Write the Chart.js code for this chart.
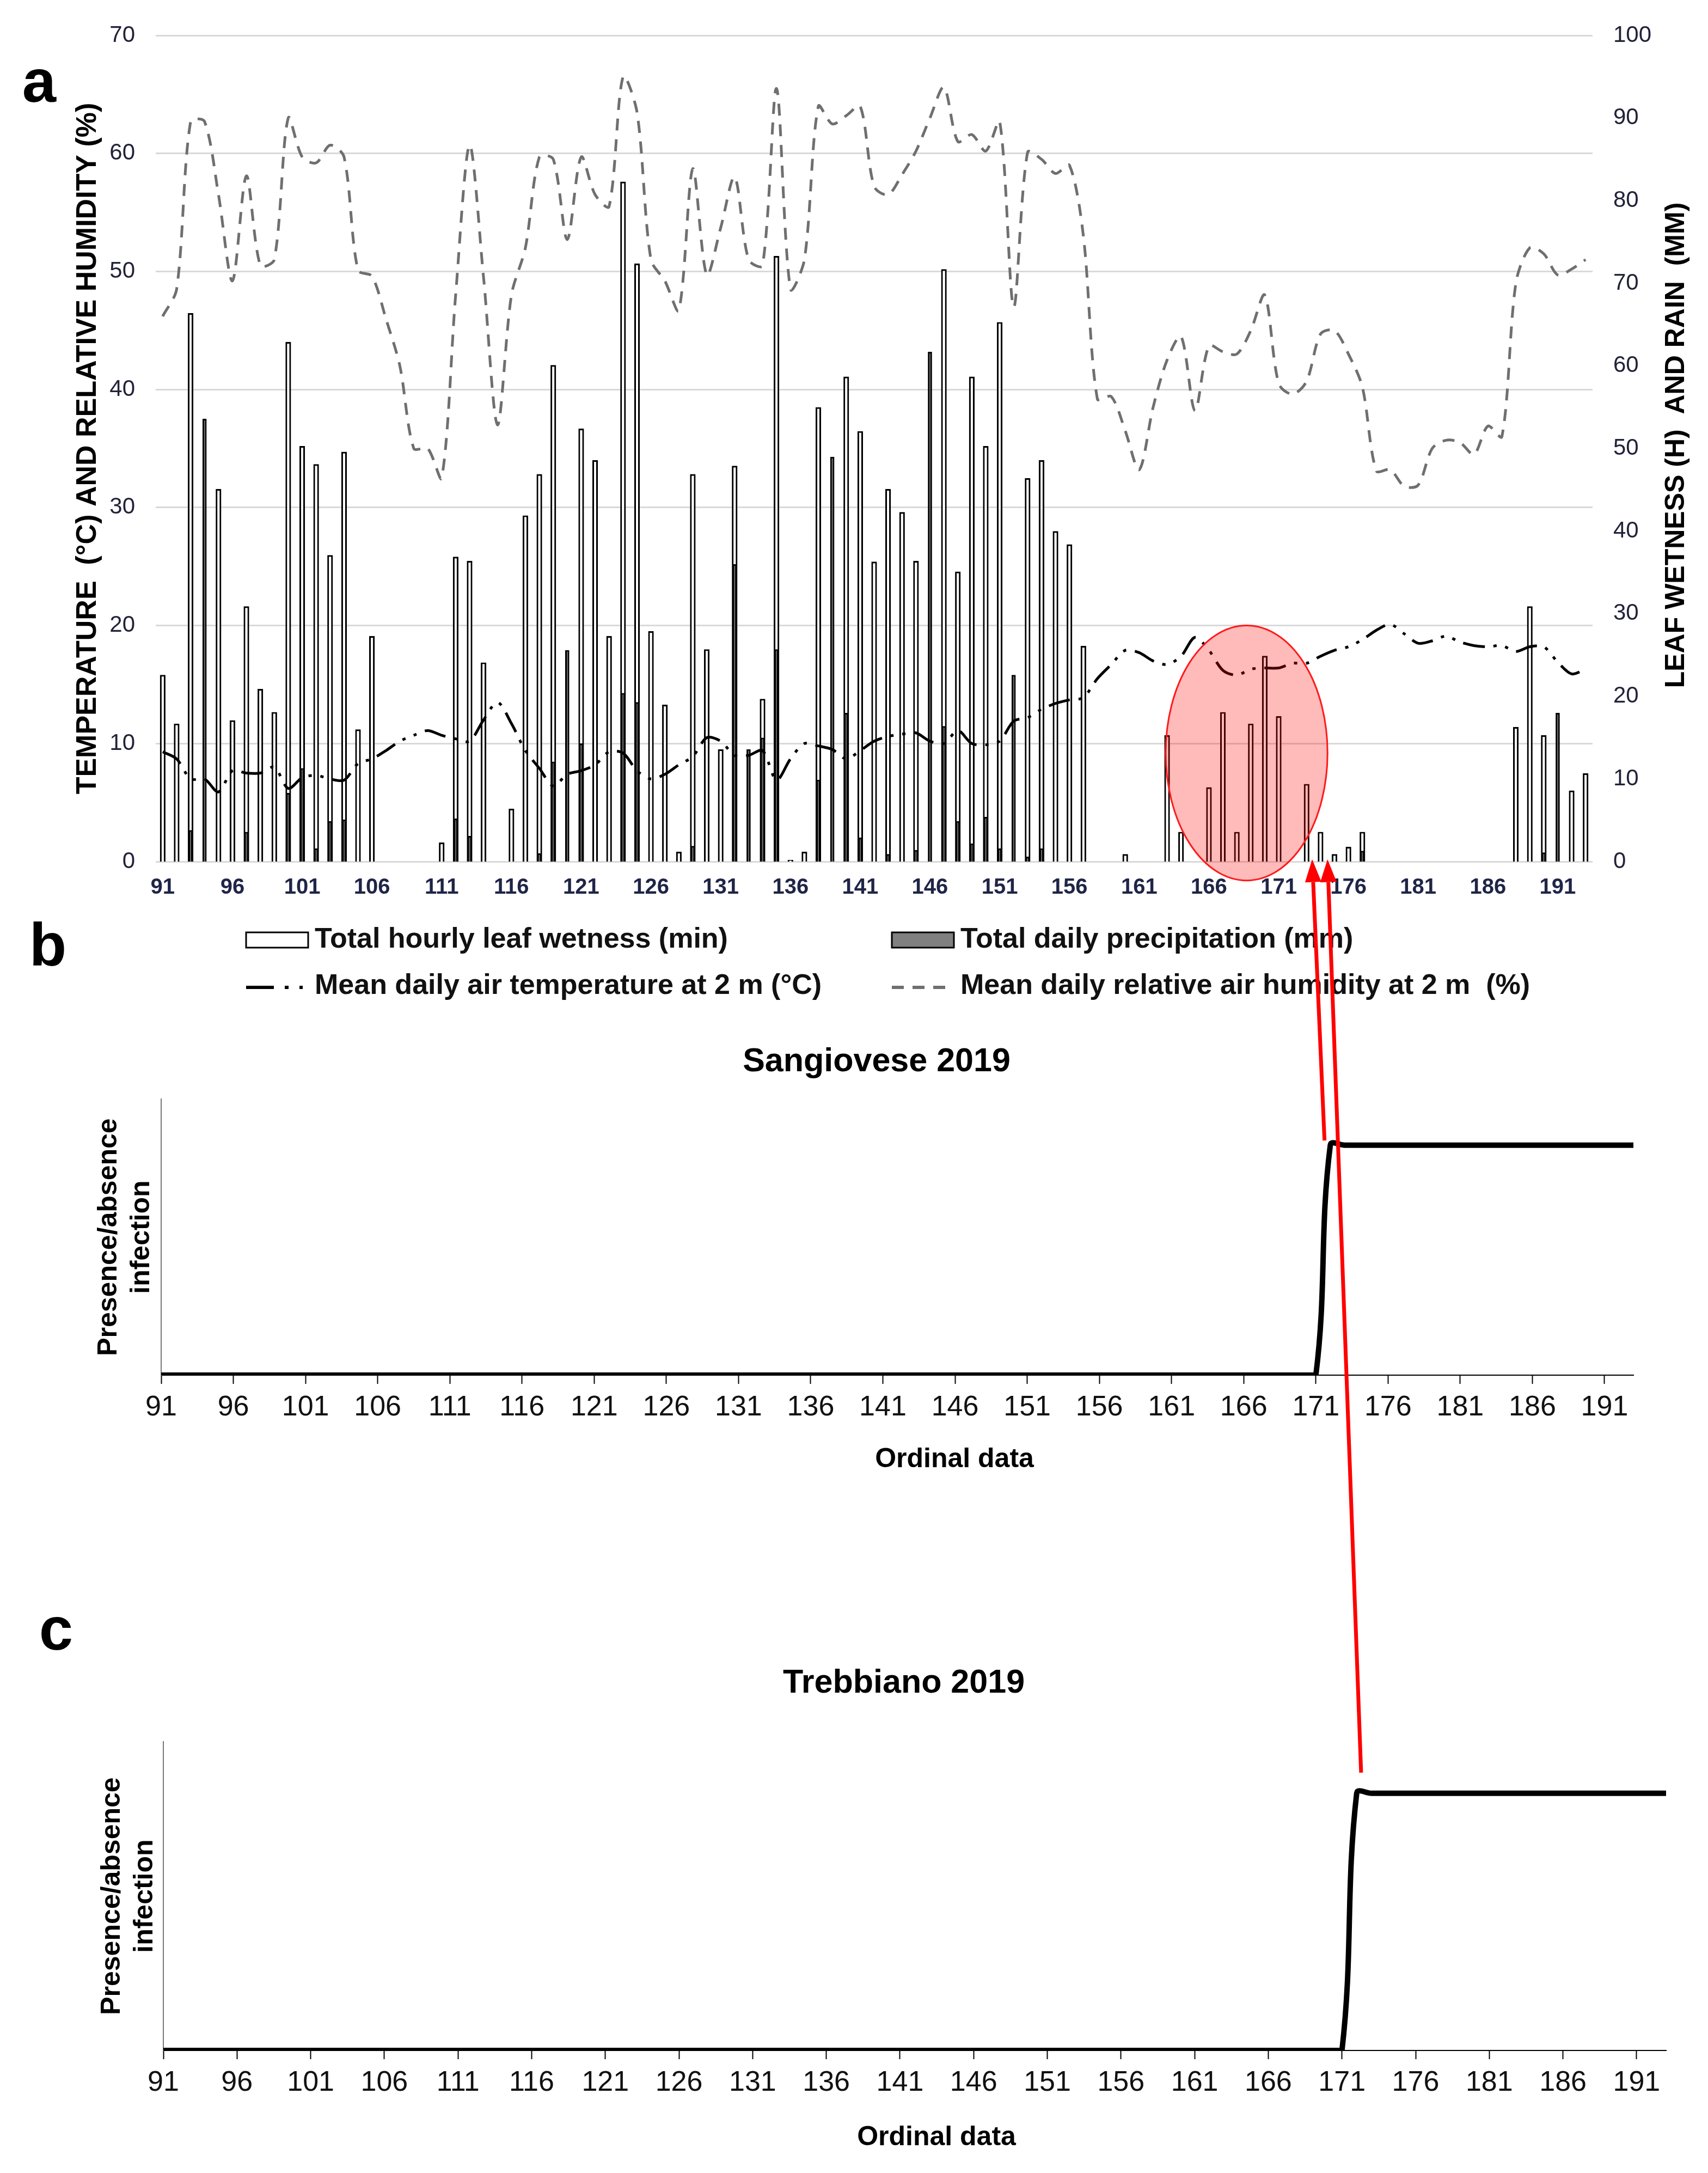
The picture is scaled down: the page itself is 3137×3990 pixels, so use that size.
<!DOCTYPE html>
<html>
<head>
<meta charset="utf-8">
<script src="https://cdn.jsdelivr.net/npm/chart.js@4.4.0/dist/chart.umd.min.js"></script>
<style>
  html, body { margin: 0; padding: 0; background: #fff; }
  #page { position: relative; width: 3137px; height: 3990px; }
  canvas { position: absolute; left: 0; }
  #chartA { top: 0; width: 3137px; height: 1860px; }
  #chartB { top: 1860px; width: 3137px; height: 900px; }
  #chartC { top: 2760px; width: 3137px; height: 1230px; }
  #overlay { top: 0; width: 3137px; height: 3990px; pointer-events: none; }
</style>
</head>
<body>
<div id="page">
  <canvas id="chartA" width="3137" height="1860"></canvas>
  <canvas id="chartB" width="3137" height="900"></canvas>
  <canvas id="chartC" width="3137" height="1230"></canvas>
  <canvas id="overlay" width="3137" height="3990"></canvas>
</div>
<script>
// ordinal days shown on every panel
const days = [
  91, 92, 93, 94, 95, 96, 97, 98, 99, 100,
  101, 102, 103, 104, 105, 106, 107, 108, 109, 110,
  111, 112, 113, 114, 115, 116, 117, 118, 119, 120,
  121, 122, 123, 124, 125, 126, 127, 128, 129, 130,
  131, 132, 133, 134, 135, 136, 137, 138, 139, 140,
  141, 142, 143, 144, 145, 146, 147, 148, 149, 150,
  151, 152, 153, 154, 155, 156, 157, 158, 159, 160,
  161, 162, 163, 164, 165, 166, 167, 168, 169, 170,
  171, 172, 173, 174, 175, 176, 177, 178, 179, 180,
  181, 182, 183, 184, 185, 186, 187, 188, 189, 190,
  191, 192, 193
];
const tickDays = [91, 96, 101, 106, 111, 116, 121, 126, 131, 136, 141, 146, 151, 156, 161, 166, 171, 176, 181, 186, 191];

// panel a, right axis (0-100)
const leafWetness = [
  22.6, 16.7, 66.4, null, 45.1, 17.1, 30.9, 20.9, 18.1, 62.9,
  50.3, 48.1, 37.1, 49.6, 16.0, 27.3, 0, 0, 0, 0,
  2.3, 36.9, 36.4, 24.1, 0, 6.4, 41.9, 46.9, 60.1, null,
  52.4, 48.6, 27.3, 82.3, 72.4, 27.9, 19.0, 1.2, 46.9, 25.7,
  13.6, 47.9, null, 19.7, 73.3, 0.2, 1.2, 55.0, null, 58.7,
  52.1, 36.3, 45.1, 42.3, 36.4, null, 71.7, 35.1, 58.7, 50.3,
  65.3, null, 46.4, 48.6, 40.0, 38.4, 26.1, 0, 0, 0.9,
  0, 0, 15.3, 3.6, 0, 9.0, 18.1, 3.6, 16.7, 24.9,
  17.6, 0, 9.4, 3.6, 0.9, 1.8, 3.6, 0, 0, 0,
  0, 0, 0, 0, 0, 0, 0, 16.3, 30.9, 15.3,
  null, 8.6, 10.7
];
const precipitation = [
  0, 0, 3.8, 53.6, 0, 0, 3.6, 0, 0, 8.3,
  11.3, 1.6, 4.9, 5.1, 0, 0, 0, 0, 0, 0,
  0, 5.2, 3.1, 0, 0, 0, 0, 1.0, 12.1, 25.6,
  14.3, 0, 0, 20.4, 19.3, 0, 0, 0, 1.9, 0,
  0, 36.0, 13.6, 15.0, 25.7, 0, 0, 9.9, 49.0, 18.0,
  2.9, 0, 0.9, 0, 1.4, 61.7, 16.4, 4.9, 2.2, 5.4,
  1.6, 22.6, 0.6, 1.6, 0, 0, 0, 0, 0, 0,
  0, 0, 0, 0, 0, 0, 0, 0, 0, 0,
  0, 0, 0, 0, 0, 0, 1.3, 0, 0, 0,
  0, 0, 0, 0, 0, 0, 0, 0, 0, 1.1,
  18.0, 0, 0
];
// panel a, left axis (0-70)
const temperature = [
  9.3, 8.7, 7.0, 7.0, 5.9, 7.7, 7.5, 7.5, 8.0, 6.2,
  7.1, 7.3, 7.0, 6.9, 8.3, 8.7, 9.4, 10.2, 10.7, 11.1,
  10.7, 10.4, 10.2, 12.0, 13.5, 11.7, 9.4, 7.9, 6.4, 7.4,
  7.7, 8.2, 9.3, 9.2, 7.7, 7.0, 7.4, 8.2, 8.9, 10.5,
  10.2, 9.0, 9.0, 9.4, 6.9, 8.7, 10.0, 9.8, 9.5, 8.7,
  9.4, 10.2, 10.6, 10.8, 10.9, 10.2, 10.0, 11.1, 10.0, 9.9,
  10.2, 11.9, 12.2, 12.9, 13.4, 13.7, 13.9, 15.5, 16.7, 17.9,
  17.7, 17.0, 16.7, 17.4, 19.0, 17.9, 16.2, 15.8, 16.3, 16.4,
  16.4, 16.8, 16.8, 17.4, 17.9, 18.2, 18.8, 19.6, 20.1, 19.3,
  18.5, 18.7, 19.1, 18.6, 18.3, 18.2, 18.3, 17.8, 18.2, 18.2,
  16.9, 15.9, 16.3
];
const humidity = [
  46.2, 48.5, 62.7, 62.7, 56.5, 49.2, 58.1, 50.5, 51.0, 63.0,
  59.7, 59.2, 60.7, 59.7, 50.1, 49.6, 46.0, 42.0, 35.0, 35.0,
  32.5, 48.0, 60.7, 49.5, 37.0, 48.0, 52.0, 59.7, 59.5, 52.7,
  59.7, 56.5, 55.5, 66.5, 63.5, 51.0, 49.2, 46.7, 58.7, 49.7,
  53.7, 58.0, 51.0, 50.5, 65.5, 48.5, 51.0, 64.0, 62.5, 63.2,
  64.0, 57.2, 56.5, 58.2, 60.2, 63.0, 65.6, 61.0, 61.6, 60.2,
  62.7, 47.0, 60.1, 59.5, 58.3, 59.0, 53.0, 39.2, 39.4, 36.5,
  33.2, 38.5, 42.5, 44.5, 38.2, 43.7, 43.2, 43.0, 45.0, 48.0,
  40.5, 39.6, 40.7, 44.7, 45.0, 43.0, 40.2, 33.1, 33.2, 31.8,
  31.9, 35.0, 35.7, 35.5, 34.5, 36.9, 36.0, 49.0, 52.0, 51.5,
  49.7, 50.2, 51.0
];
// panels b and c: 0 = absence, 1 = presence
const sangioveseInfection = [
  0, 0, 0, 0, 0, 0, 0, 0, 0, 0,
  0, 0, 0, 0, 0, 0, 0, 0, 0, 0,
  0, 0, 0, 0, 0, 0, 0, 0, 0, 0,
  0, 0, 0, 0, 0, 0, 0, 0, 0, 0,
  0, 0, 0, 0, 0, 0, 0, 0, 0, 0,
  0, 0, 0, 0, 0, 0, 0, 0, 0, 0,
  0, 0, 0, 0, 0, 0, 0, 0, 0, 0,
  0, 0, 0, 0, 0, 0, 0, 0, 0, 0,
  0, 1, 1, 1, 1, 1, 1, 1, 1, 1,
  1, 1, 1, 1, 1, 1, 1, 1, 1, 1,
  1, 1, 1
];
const trebbianoInfection = [
  0, 0, 0, 0, 0, 0, 0, 0, 0, 0,
  0, 0, 0, 0, 0, 0, 0, 0, 0, 0,
  0, 0, 0, 0, 0, 0, 0, 0, 0, 0,
  0, 0, 0, 0, 0, 0, 0, 0, 0, 0,
  0, 0, 0, 0, 0, 0, 0, 0, 0, 0,
  0, 0, 0, 0, 0, 0, 0, 0, 0, 0,
  0, 0, 0, 0, 0, 0, 0, 0, 0, 0,
  0, 0, 0, 0, 0, 0, 0, 0, 0, 0,
  0, 1, 1, 1, 1, 1, 1, 1, 1, 1,
  1, 1, 1, 1, 1, 1, 1, 1, 1, 1,
  1, 1, 1
];

// highlighted area and arrows, given in data units
const highlight = { day: 168.7, value: 9.2, rxDays: 5.8, ryValue: 10.8 };
const arrows = [
  { from: "B", day: 171.6, value: 1.02, toDay: 173.4, toValue: 0.2 },
  { from: "C", day: 172.3, value: 1.08, toDay: 174.5, toValue: 0.2 }
];

const FONT = "'Liberation Sans', Arial, sans-serif";
Chart.defaults.font.family = FONT;
Chart.defaults.color = "#22223a";

const panelAExtras = {
  id: "panelAExtras",
  afterDatasetsDraw(chart) {
    const { ctx, scales } = chart;
    const x = scales.x, y = scales.yL;
    const i0 = highlight.day - days[0];
    const cx = x.getPixelForValue(i0);
    const cy = y.getPixelForValue(highlight.value);
    const rx = x.getPixelForValue(i0 + highlight.rxDays) - cx;
    const ry = y.getPixelForValue(0) - y.getPixelForValue(highlight.ryValue);
    ctx.save();
    ctx.beginPath();
    ctx.ellipse(cx, cy, rx, ry, 0, 0, Math.PI * 2);
    ctx.fillStyle = "rgba(255, 0, 0, 0.27)";
    ctx.fill();
    ctx.lineWidth = 3;
    ctx.strokeStyle = "#ff1a1a";
    ctx.stroke();
    ctx.restore();
  },
  afterDraw(chart) {
    const { ctx, chartArea } = chart;
    ctx.save();
    // right axis title, reads bottom to top
    ctx.translate(chart.width - 58, (chartArea.top + chartArea.bottom) / 2 - 6);
    ctx.rotate(-Math.PI / 2);
    ctx.font = "bold 50px " + FONT;
    ctx.fillStyle = "#000";
    ctx.textAlign = "center";
    ctx.textBaseline = "middle";
    ctx.fillText("LEAF WETNESS (H)  AND RAIN  (MM)", 0, 0);
    ctx.restore();

    // legend, 2 x 2
    const ds = chart.data.datasets;
    const slots = [
      { ds: 3, x: 452, base: 1740 },
      { ds: 2, x: 1638, base: 1740 },
      { ds: 1, x: 452, base: 1825 },
      { ds: 0, x: 1638, base: 1825 }
    ];
    ctx.save();
    ctx.font = "bold 52px " + FONT;
    ctx.textBaseline = "alphabetic";
    ctx.textAlign = "left";
    for (const s of slots) {
      const d = ds[s.ds];
      if (d.type === "bar") {
        ctx.fillStyle = s.ds === 2 ? "#808080" : d.backgroundColor;
        ctx.fillRect(s.x, s.base - 28, 114, 28);
        ctx.lineWidth = 3;
        ctx.strokeStyle = "#000";
        ctx.strokeRect(s.x, s.base - 28, 114, 28);
      } else {
        ctx.beginPath();
        ctx.setLineDash(s.ds === 1 ? [51, 20, 7, 20, 6, 20] : d.borderDash);
        ctx.lineWidth = 6;
        ctx.strokeStyle = d.borderColor;
        ctx.moveTo(s.x, s.base - 12);
        ctx.lineTo(s.x + (s.ds === 1 ? 104 : 98), s.base - 12);
        ctx.stroke();
        ctx.setLineDash([]);
      }
      ctx.fillStyle = "#111";
      ctx.fillText(d.label, s.x + 126, s.base);
    }
    ctx.restore();
  }
};

const chartA = new Chart(document.getElementById("chartA"), {
  type: "bar",
  data: {
    labels: days,
    datasets: [
      {
        type: "line",
        label: "Mean daily relative air humidity at 2 m  (%)",
        data: humidity,
        yAxisID: "yL",
        borderColor: "#6f6f6f",
        borderWidth: 5,
        borderDash: [22, 16],
        pointRadius: 0,
        tension: 0.3,
        order: 0
      },
      {
        type: "line",
        label: "Mean daily air temperature at 2 m (°C)",
        data: temperature,
        yAxisID: "yL",
        borderColor: "#000",
        borderWidth: 5,
        borderDash: [40, 16, 6, 16, 6, 16],
        pointRadius: 0,
        tension: 0.3,
        order: 1
      },
      {
        type: "bar",
        label: "Total daily precipitation (mm)",
        data: precipitation,
        yAxisID: "yR",
        backgroundColor: "#5a5a5a",
        borderColor: "#000",
        borderWidth: 3,
        barPercentage: 0.3,
        categoryPercentage: 1,
        grouped: false,
        order: 2
      },
      {
        type: "bar",
        label: "Total hourly leaf wetness (min)",
        data: leafWetness,
        yAxisID: "yR",
        backgroundColor: "#ffffff",
        borderColor: "#000",
        borderWidth: 3.2,
        barPercentage: 0.4,
        categoryPercentage: 1,
        grouped: false,
        order: 3
      }
    ]
  },
  options: {
    responsive: false,
    animation: false,
    devicePixelRatio: 1,
    layout: { padding: { top: 65, left: 0, right: 0, bottom: 0 } },
    plugins: { legend: { display: false }, tooltip: { enabled: false } },
    scales: {
      x: {
        offset: true,
        grid: { display: false, drawTicks: false },
        border: { display: false },
        ticks: {
          autoSkip: false,
          maxRotation: 0,
          padding: 24,
          color: "#1f2547",
          font: { size: 40, weight: "bold" },
          callback: (v, i) => (tickDays.includes(days[i]) ? String(days[i]) : "")
        },
        afterFit: (s) => { s.height = 278; }
      },
      yL: {
        position: "left",
        min: 0,
        max: 70,
        ticks: { stepSize: 10, padding: 38, font: { size: 42 } },
        grid: { color: "#d9d9d9", lineWidth: 3, drawTicks: false },
        border: { display: false },
        title: {
          display: true,
          text: "TEMPERATURE  (°C) AND RELATIVE HUMIDITY (%)",
          color: "#000",
          font: { size: 52, weight: "bold" },
          padding: { top: 130, bottom: 0 }
        },
        afterFit: (s) => { s.width = 286; }
      },
      yR: {
        position: "right",
        min: 0,
        max: 100,
        ticks: { stepSize: 10, padding: 38, font: { size: 42 } },
        grid: { display: false, drawTicks: false },
        border: { display: false },
        afterFit: (s) => { s.width = 212; }
      }
    }
  },
  plugins: [panelAExtras]
});

// x-axis title of panels b and c sits right of the axis centre in the original
const xTitlePlugin = {
  id: "xTitle",
  afterDraw(chart, args, opts) {
    const { ctx, chartArea } = chart;
    ctx.save();
    ctx.font = "bold 50px " + FONT;
    ctx.fillStyle = "#000";
    ctx.textAlign = "center";
    ctx.textBaseline = "middle";
    ctx.fillText(opts.text, (chartArea.left + chartArea.right) / 2 + opts.shift, opts.y);
    ctx.restore();
  }
};

function infectionChart(id, title, values, p) {
  return new Chart(document.getElementById(id), {
    type: "line",
    data: {
      datasets: [{
        label: title,
        data: days.map((d, i) => ({ x: d, y: values[i] })),
        borderColor: "#000",
        borderWidth: 10,
        pointRadius: 0,
        tension: 0.4,
        fill: false
      }]
    },
    options: {
      responsive: false,
      animation: false,
      devicePixelRatio: 1,
      layout: { padding: { left: p.left, right: p.right, top: 0, bottom: 0 } },
      plugins: {
        legend: { display: false },
        tooltip: { enabled: false },
        title: {
          display: true,
          text: title,
          color: "#000",
          font: { size: 61, weight: "bold" },
          padding: { top: p.titleTop, bottom: p.titleBottom }
        },
        xTitle: { text: "Ordinal data", shift: p.xTitleShift, y: p.xTitleY }
      },
      scales: {
        x: {
          type: "linear",
          min: days[0],
          max: days[days.length - 1],
          afterBuildTicks: (s) => { s.ticks = tickDays.map((v) => ({ value: v })); },
          ticks: { autoSkip: false, maxRotation: 0, padding: 12, color: "#111", font: { size: 52 }, callback: (v) => String(v) },
          grid: { drawOnChartArea: false, drawTicks: true, tickLength: 16, tickWidth: 2, tickColor: "#000" },
          border: { display: true, color: "#000", width: 2 },
          afterFit: (s) => { s.height = p.xHeight; }
        },
        y: {
          min: 0,
          max: 1.2,
          ticks: { display: false },
          grid: { display: false },
          border: { display: true, color: "#777", width: 2 },
          title: {
            display: true,
            text: ["Presence/absence", "infection"],
            color: "#000",
            font: { size: 50, weight: "bold" },
            padding: { top: p.yTitleTop, bottom: 0 }
          },
          afterFit: (s) => { s.width = p.yWidth; }
        }
      }
    },
    plugins: [xTitlePlugin]
  });
}

const chartB = infectionChart("chartB", "Sangiovese 2019", sangioveseInfection, {
  left: 220, right: 137, titleTop: 54, titleBottom: 31, xHeight: 235,
  xTitleShift: 105, xTitleY: 820, yWidth: 76, yTitleTop: -50
});
const chartC = infectionChart("chartC", "Trebbiano 2019", trebbianoInfection, {
  left: 260, right: 77, titleTop: 295, titleBottom: 70, xHeight: 225,
  xTitleShift: 40, xTitleY: 1165, yWidth: 40, yTitleTop: -84
});

// overlay: panel letters and the red arrows linking the panels
const tops = { A: 0, B: 1860, C: 2760 };
const charts = { A: chartA, B: chartB, C: chartC };
const octx = document.getElementById("overlay").getContext("2d");

function drawArrow(ctx, x0, y0, x1, y1) {
  const ang = Math.atan2(y1 - y0, x1 - x0);
  const head = 42, half = 15;
  const bx = x1 - head * Math.cos(ang), by = y1 - head * Math.sin(ang);
  ctx.strokeStyle = "#ff0000";
  ctx.fillStyle = "#ff0000";
  ctx.lineWidth = 7;
  ctx.beginPath();
  ctx.moveTo(x0, y0);
  ctx.lineTo(bx, by);
  ctx.stroke();
  ctx.beginPath();
  ctx.moveTo(x1, y1);
  ctx.lineTo(bx + half * Math.sin(ang), by - half * Math.cos(ang));
  ctx.lineTo(bx - half * Math.sin(ang), by + half * Math.cos(ang));
  ctx.closePath();
  ctx.fill();
}

for (const a of arrows) {
  const src = charts[a.from];
  const x0 = src.scales.x.getPixelForValue(a.day);
  const y0 = src.scales.y.getPixelForValue(a.value) + tops[a.from];
  const x1 = chartA.scales.x.getPixelForValue(a.toDay - days[0]);
  const y1 = chartA.scales.yL.getPixelForValue(a.toValue) + tops.A;
  drawArrow(octx, x0, y0, x1, y1);
}

octx.font = "bold 112px " + FONT;
octx.fillStyle = "#000";
octx.textAlign = "center";
octx.textBaseline = "middle";
octx.fillText("a", 72, 156);
octx.fillText("b", 88, 1742);
octx.fillText("c", 103, 2998);
</script>
</body>
</html>
